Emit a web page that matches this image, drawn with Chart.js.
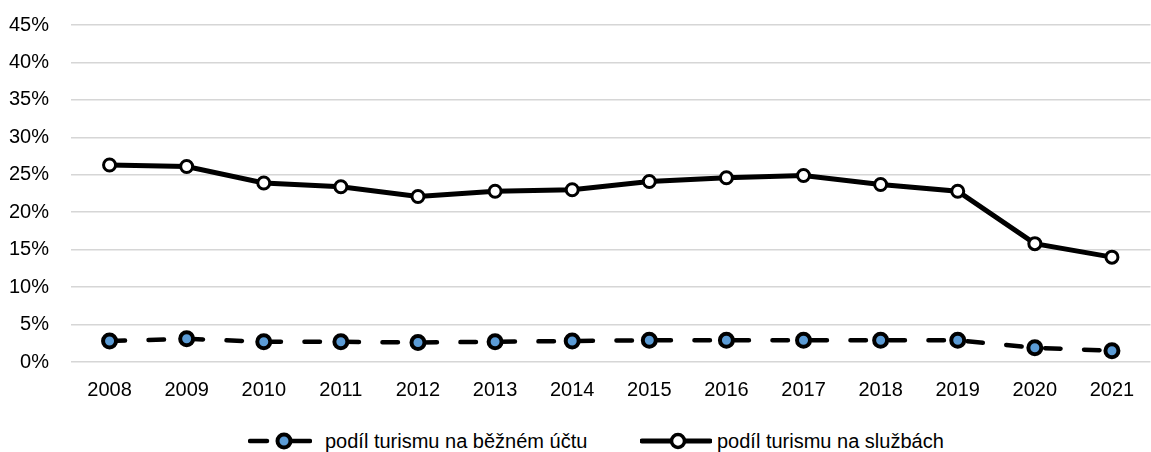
<!DOCTYPE html>
<html lang="cs">
  <head>
    <meta charset="UTF-8" />
    <title>Podíl turismu</title>
    <script src="https://cdn.jsdelivr.net/npm/chart.js@4/dist/chart.umd.min.js"></script>
    <style>
      html, body { margin: 0; padding: 0; background: #fff; overflow: hidden; }
      #wrap { position: relative; width: 1161px; height: 452px; }
      #chart-box { position: absolute; left: 0; top: 0; width: 1161px; height: 400px; }
      .legend-item {
        position: absolute; top: 429px; height: 24px; display: flex; align-items: center;
        font-family: "Liberation Sans", Arial, sans-serif; font-size: 20px; color: #000;
        white-space: nowrap;
      }
      .legend-item svg { display: block; }
    </style>
  </head>
  <body>
    <div id="wrap">
      <div id="chart-box"><canvas id="tourismChart"></canvas></div>
      <div class="legend-item" style="left: 248px">
        <svg width="64" height="20">
          <line x1="2" y1="10" x2="19" y2="10" stroke="#000" stroke-width="4.5" stroke-linecap="round" />
          <line x1="44" y1="10" x2="62" y2="10" stroke="#000" stroke-width="4.5" stroke-linecap="round" />
          <circle cx="36" cy="10" r="6.5" fill="#5B9BD5" stroke="#000" stroke-width="4" />
        </svg>
        <span style="margin-left: 13px">podíl turismu na běžném účtu</span>
      </div>
      <div class="legend-item" style="left: 640px">
        <svg width="72" height="20">
          <line x1="2" y1="10" x2="70" y2="10" stroke="#000" stroke-width="5" stroke-linecap="round" />
          <circle cx="38" cy="10" r="6.5" fill="#fff" stroke="#000" stroke-width="3.5" />
        </svg>
        <span style="margin-left: 5px">podíl turismu na službách</span>
      </div>
    </div>

    <script>
      const years = ["2008", "2009", "2010", "2011", "2012", "2013", "2014",
        "2015", "2016", "2017", "2018", "2019", "2020", "2021"];

      // podíl turismu na běžném účtu (%)
      const currentAccountShare = [2.8, 3.1, 2.7, 2.7, 2.6, 2.7, 2.8,
        2.9, 2.9, 2.9, 2.9, 2.9, 1.9, 1.5];

      // podíl turismu na službách (%)
      const servicesShare = [26.3, 26.1, 23.9, 23.4, 22.1, 22.8, 23.0,
        24.1, 24.6, 24.9, 23.7, 22.8, 15.8, 14.0];

      const yTicks = [0, 5, 10, 15, 20, 25, 30, 35, 40, 45];

      const tickFont = { family: "'Liberation Sans', Arial, sans-serif", size: 20 };

      const ctx = document.getElementById("tourismChart").getContext("2d");
      new Chart(ctx, {
        type: "line",
        data: {
          labels: years,
          datasets: [
            {
              label: "podíl turismu na běžném účtu",
              data: currentAccountShare,
              borderColor: "#000",
              borderWidth: 4.5,
              borderDash: [15.5, 23.5],
              borderCapStyle: "round",
              pointRadius: 6.5,
              pointBorderWidth: 4,
              pointBackgroundColor: "#5B9BD5",
              pointBorderColor: "#000",
              tension: 0,
            },
            {
              label: "podíl turismu na službách",
              data: servicesShare,
              borderColor: "#000",
              borderWidth: 5,
              pointRadius: 6,
              pointBorderWidth: 3,
              pointBackgroundColor: "#fff",
              pointBorderColor: "#000",
              tension: 0,
            },
          ],
        },
        options: {
          responsive: true,
          maintainAspectRatio: false,
          animation: false,
          layout: { padding: { top: 25, right: 0, bottom: 0, left: 0 } },
          plugins: {
            legend: { display: false },
            tooltip: { enabled: false },
          },
          scales: {
            x: {
              offset: true,
              grid: { display: false },
              border: { display: false },
              ticks: { color: "#000", font: tickFont, padding: 8, maxRotation: 0 },
              afterFit: (scale) => { scale.height = 38; },
            },
            y: {
              min: 0,
              max: 45,
              afterBuildTicks: (scale) => {
                scale.ticks = yTicks.map((v) => ({ value: v }));
              },
              grid: { color: "#d6d6d6", lineWidth: 1.5, drawTicks: false },
              border: { display: false },
              ticks: {
                color: "#000",
                font: tickFont,
                padding: 22,
                callback: (v) => v + "%",
              },
              afterFit: (scale) => {
                scale.width = 71;
                scale.paddingTop = 0;
                scale.paddingBottom = 0;
              },
            },
          },
        },
      });
    </script>
  </body>
</html>
